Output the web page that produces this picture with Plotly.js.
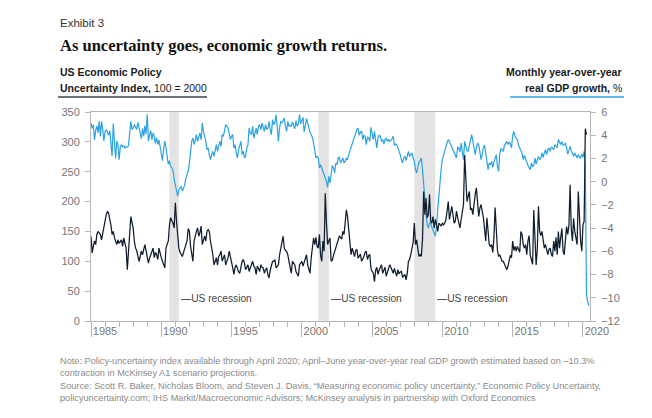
<!DOCTYPE html>
<html>
<head>
<meta charset="utf-8">
<script src="https://cdn.plot.ly/plotly-3.0.1.min.js"></script>
<style>html,body{margin:0;padding:0;background:#fff;}#chart{width:652px;height:418px;}</style>
</head>
<body>
<div id="chart"></div>
<script>
// Monthly data, Jan 1985 onward
const startYear = 1985;
const epu = [
142,114,125,134,128,145,150,147,145,136,148,156,
170,178,183,181,170,161,145,150,140,132,128,136,
130,133,136,125,139,130,122,86,122,150,175,165,
156,134,122,118,111,100,108,117,111,120,128,118,
108,97,105,111,118,122,106,115,111,103,122,112,
106,100,94,89,122,128,134,161,173,168,164,156,
198,167,134,122,115,111,108,115,122,128,134,155,
150,125,110,100,134,145,150,156,142,148,159,128,
135,142,134,150,153,150,134,125,111,94,100,106,
94,108,111,117,100,105,111,94,100,106,117,108,
103,89,78,90,94,86,82,80,94,100,103,97,
86,90,94,83,90,94,100,92,89,78,92,88,
83,94,90,89,80,86,89,78,72,85,94,100,
100,103,89,92,94,111,122,135,142,122,118,117,
111,100,88,80,100,96,94,83,80,75,94,97,
100,92,98,105,111,94,85,80,106,130,139,128,
140,125,122,145,110,100,134,117,214,165,128,134,
139,100,102,110,117,122,130,136,142,140,137,150,
145,165,186,175,150,128,111,122,115,108,118,120,
105,110,112,100,103,108,115,117,103,110,111,88,
83,80,66,85,90,78,85,89,94,80,85,90,
75,82,89,94,90,86,80,88,80,75,86,79,
82,83,73,75,78,69,80,100,103,111,120,131,
164,128,136,122,108,111,108,136,217,178,206,173,
178,212,167,164,175,156,170,161,150,164,161,159,
164,161,164,170,184,200,170,184,192,178,164,167,
184,173,164,156,170,181,195,278,226,200,209,217,
186,189,178,198,212,223,189,175,189,195,184,173,
153,134,173,145,128,125,128,115,140,190,145,118,
108,111,105,100,100,95,90,86,92,100,110,106,
134,118,125,117,125,120,115,150,145,128,122,128,
111,134,143,110,100,95,186,134,94,120,192,150,
143,150,134,122,128,117,111,120,122,111,108,134,
117,140,111,150,122,140,155,117,111,135,158,145,
160,228,155,134,172,150,134,128,217,164,134,117,
161,167,322,312
];
const gdp = [
5.05,4.6,4.9,3.6,4.4,4.8,4.2,5.2,3.9,5.2,4.5,3.5,
4.3,4.5,4.3,4.0,4.4,3.4,2.2,5.0,3.4,2.0,3.5,3.2,
1.9,3.0,3.2,3.0,3.1,2.9,3.0,3.0,3.1,4.0,5.2,4.5,
4.6,4.9,4.7,4.5,5.1,4.6,4.4,3.7,4.6,3.9,4.8,4.1,
5.8,3.5,4.0,4.4,3.6,4.2,3.9,3.3,3.8,3.2,3.6,3.0,
2.6,1.8,2.8,3.5,2.9,2.1,1.5,1.8,1.3,1.2,1.0,0.2,
-0.3,-0.6,-1.25,-0.7,-0.5,-0.4,-0.8,-0.5,-0.3,0.3,0.6,0.9,
1.6,2.9,3.5,3.76,3.2,3.6,4.05,3.47,3.76,4.19,3.62,5.05,
4.3,3.9,3.47,2.76,2.9,2.33,1.9,2.33,2.6,2.18,2.9,3.19,
2.61,3.04,3.47,3.04,4.05,3.9,4.33,4.91,4.77,4.62,4.19,3.62,
3.9,4.05,2.9,3.19,2.47,2.04,2.76,3.04,3.47,2.33,2.6,2.04,
2.18,2.9,3.19,4.62,4.19,4.05,4.77,3.76,4.19,4.62,4.05,4.77,
4.91,4.48,5.05,4.77,4.33,4.91,4.48,4.62,5.2,4.48,4.05,5.34,
4.91,5.05,5.77,4.62,3.47,4.62,5.2,5.05,5.34,5.48,4.77,4.33,
5.2,4.77,4.85,4.77,5.14,4.77,4.56,5.25,4.77,4.97,5.77,4.97,
5.34,5.54,4.28,5.05,5.43,5.05,4.56,4.28,4.05,3.82,3.33,2.76,
2.04,2.18,2.04,1.18,1.46,1.18,0.89,0.6,0.46,0.03,-0.49,0.46,
-0.11,0.89,1.41,1.18,0.75,1.61,1.46,2.04,2.1,1.61,1.9,2.04,
1.61,1.75,2.04,1.9,2.33,2.67,2.9,3.33,3.53,3.9,4.19,4.48,
4.62,3.99,4.28,4.33,3.62,3.99,3.9,3.19,3.82,3.76,3.47,4.68,
4.05,3.62,4.33,3.47,2.9,3.76,3.99,3.9,3.47,3.62,3.24,3.62,
3.76,3.47,3.62,3.47,3.53,3.7,3.9,3.13,3.24,3.19,2.9,2.76,
2.33,1.9,1.61,2.04,2.18,1.81,2.33,2.61,2.18,2.38,2.47,2.04,
1.75,1.03,0.75,1.23,1.69,1.81,2.04,1.03,-0.54,-1.84,-2.7,-3.7,
-3.99,-3.56,-3.56,-3.93,-4.13,-4.42,-4.7,-3.84,-2.41,-0.97,0.17,1.18,
1.9,2.33,2.76,3.04,3.33,3.62,3.47,3.13,2.96,2.76,2.47,2.18,
2.04,2.96,2.9,2.56,3.33,2.61,1.9,3.47,2.96,2.67,2.61,3.13,
3.62,4.05,3.47,2.76,2.33,2.9,3.33,3.19,2.61,1.9,2.33,2.96,
3.13,2.33,1.46,1.03,1.61,1.46,1.75,1.24,1.69,2.1,2.33,1.32,
0.89,2.47,2.84,2.76,2.61,3.13,3.33,3.47,3.19,3.42,3.24,2.9,
3.99,4.33,3.9,3.7,3.62,3.13,2.96,2.67,2.47,1.9,2.27,2.04,
1.69,1.41,1.18,1.03,1.61,1.32,1.41,2.04,1.52,1.9,2.18,1.9,
1.98,2.47,2.1,2.47,2.76,2.33,2.76,2.9,2.61,2.96,2.9,2.76,
3.19,3.04,2.96,3.62,3.33,3.19,3.47,3.13,3.19,3.33,2.9,2.38,
2.67,3.04,2.67,2.33,2.18,2.47,2.27,2.04,2.33,2.1,2.04,2.38,
2.1,2.61,1.41,-9.8,-10.3,-10.7
];
const recessionStart = [1990.58, 2001.17, 2008.0];
const recessionEnd = [1991.25, 2001.92, 2009.5];
const recessionLabel = "US recession";
const yearTicks = [1985, 1990, 1995, 2000, 2005, 2010, 2015, 2020];
const leftTicks = [0, 50, 100, 150, 200, 250, 300, 350];
const rightTicks = [-12, -10, -8, -6, -4, -2, 0, 2, 4, 6];

const xEpu = epu.map((_, i) => startYear + i / 12);
const xGdp = gdp.map((_, i) => startYear + i / 12);

const DARK = '#0f1d2e';
const BLUE = '#2ba3e2';
const SANS = '"Liberation Sans", Arial, sans-serif';
const SERIF = '"Liberation Serif", "DejaVu Serif", serif';

const traces = [
  {x: xGdp, y: gdp, type: 'scatter', mode: 'lines', yaxis: 'y',
   line: {color: BLUE, width: 1.2}, hoverinfo: 'skip'},
  {x: xEpu, y: epu, type: 'scatter', mode: 'lines', yaxis: 'y2',
   line: {color: DARK, width: 1.25}, hoverinfo: 'skip'}
];

const shapes = recessionStart.map((s, i) => ({
  type: 'rect', xref: 'x', yref: 'paper', x0: s, x1: recessionEnd[i], y0: 0, y1: 1,
  fillcolor: '#e3e3e3', line: {width: 0}, layer: 'below'
}));
// axis-title underlines
shapes.push({type: 'line', xref: 'paper', yref: 'paper', x0: -0.066, x1: 0.2325, y0: 1.072, y1: 1.072, line: {color: '#3a4350', width: 1.5}});
shapes.push({type: 'line', xref: 'paper', yref: 'paper', x0: 0.8397, x1: 1.068, y0: 1.072, y1: 1.072, line: {color: BLUE, width: 1.5}});

const ann = [];
const L = -0.066;
ann.push({xref: 'paper', yref: 'paper', x: L, y: 1.426, xanchor: 'left', yanchor: 'middle', showarrow: false,
  text: 'Exhibit 3', font: {family: SANS, size: 11.5, color: '#333'}});
ann.push({xref: 'paper', yref: 'paper', x: L, y: 1.32, xanchor: 'left', yanchor: 'middle', showarrow: false,
  text: '<b>As uncertainty goes, economic growth returns.</b>', font: {family: SERIF, size: 16.5, color: '#111'}});
ann.push({xref: 'paper', yref: 'paper', x: L, y: 1.191, xanchor: 'left', yanchor: 'middle', showarrow: false,
  text: '<b>US Economic Policy</b>', font: {family: SANS, size: 10.5, color: '#1a1a1a'}});
ann.push({xref: 'paper', yref: 'paper', x: L, y: 1.115, xanchor: 'left', yanchor: 'middle', showarrow: false,
  text: '<b>Uncertainty Index,</b> 100 = 2000', font: {family: SANS, size: 10.5, color: '#1a1a1a'}});
ann.push({xref: 'paper', yref: 'paper', x: 1.068, y: 1.191, xanchor: 'right', yanchor: 'middle', showarrow: false,
  text: '<b>Monthly year-over-year</b>', font: {family: SANS, size: 10.5, color: '#1a1a1a'}});
ann.push({xref: 'paper', yref: 'paper', x: 1.068, y: 1.115, xanchor: 'right', yanchor: 'middle', showarrow: false,
  text: '<b>real GDP growth,</b> %', font: {family: SANS, size: 10.5, color: '#1a1a1a'}});
recessionEnd.forEach(e => ann.push({xref: 'x', yref: 'paper', x: e, y: 0.11, xanchor: 'left', yanchor: 'middle',
  showarrow: false, text: '<span style="color:#1a2433">—</span>' + recessionLabel,
  font: {family: SANS, size: 10.2, color: '#444'}}));
const notes = [
  'Note: Policy-uncertainty index available through April 2020; April–June year-over-year real GDP growth estimated based on –10.3%',
  'contraction in McKinsey A1 scenario projections.',
  'Source: Scott R. Baker, Nicholas Bloom, and Steven J. Davis, “Measuring economic policy uncertainty,” Economic Policy Uncertainty,',
  'policyuncertainty.com; IHS Markit/Macroeconomic Advisors; McKinsey analysis in partnership with Oxford Economics'
];
const noteY = [-0.193, -0.25, -0.313, -0.37];
notes.forEach((t, i) => ann.push({xref: 'paper', yref: 'paper', x: L, y: noteY[i], xanchor: 'left', yanchor: 'middle',
  showarrow: false, text: t, font: {family: SANS, size: 9.2, color: '#8a8a8a'}}));

const layout = {
  width: 652, height: 418,
  margin: {l: 91, r: 62, t: 112, b: 97, pad: 0},
  paper_bgcolor: '#fff', plot_bgcolor: 'rgba(0,0,0,0)',
  showlegend: false,
  font: {family: SANS, color: '#777', size: 11},
  xaxis: {
    range: [1985, 2020.5], tickmode: 'array', tickvals: yearTicks, ticktext: yearTicks.map(String),
    ticks: 'outside', ticklen: 15, tickwidth: 1, tickcolor: '#b5b5b5',
    ticklabelshift: 14, ticklabelstandoff: -15,
    minor: {dtick: 1, tick0: 1985, ticks: 'outside', ticklen: 5, tickcolor: '#b5b5b5', showgrid: false},
    showline: true, linecolor: '#b5b5b5', linewidth: 1, mirror: true,
    showgrid: false, zeroline: false, tickfont: {size: 11, color: '#777'}, fixedrange: true
  },
  yaxis: {
    side: 'right', range: [-12, 6], tickmode: 'array', tickvals: rightTicks,
    ticks: 'outside', ticklen: 5, tickcolor: '#b5b5b5', showline: true, linecolor: '#b5b5b5',
    showgrid: false, zeroline: false, tickfont: {size: 11, color: '#777'}, ticklabelstandoff: 3
  },
  yaxis2: {
    side: 'left', overlaying: 'y', range: [0, 350], tickmode: 'array', tickvals: leftTicks,
    ticks: 'outside', ticklen: 5, tickcolor: '#b5b5b5', showline: true, linecolor: '#b5b5b5',
    showgrid: false, zeroline: false, tickfont: {size: 11, color: '#777'}, ticklabelstandoff: 3
  },
  shapes: shapes,
  annotations: ann
};

Plotly.newPlot('chart', traces, layout, {staticPlot: true, displayModeBar: false});
</script>
</body>
</html>
